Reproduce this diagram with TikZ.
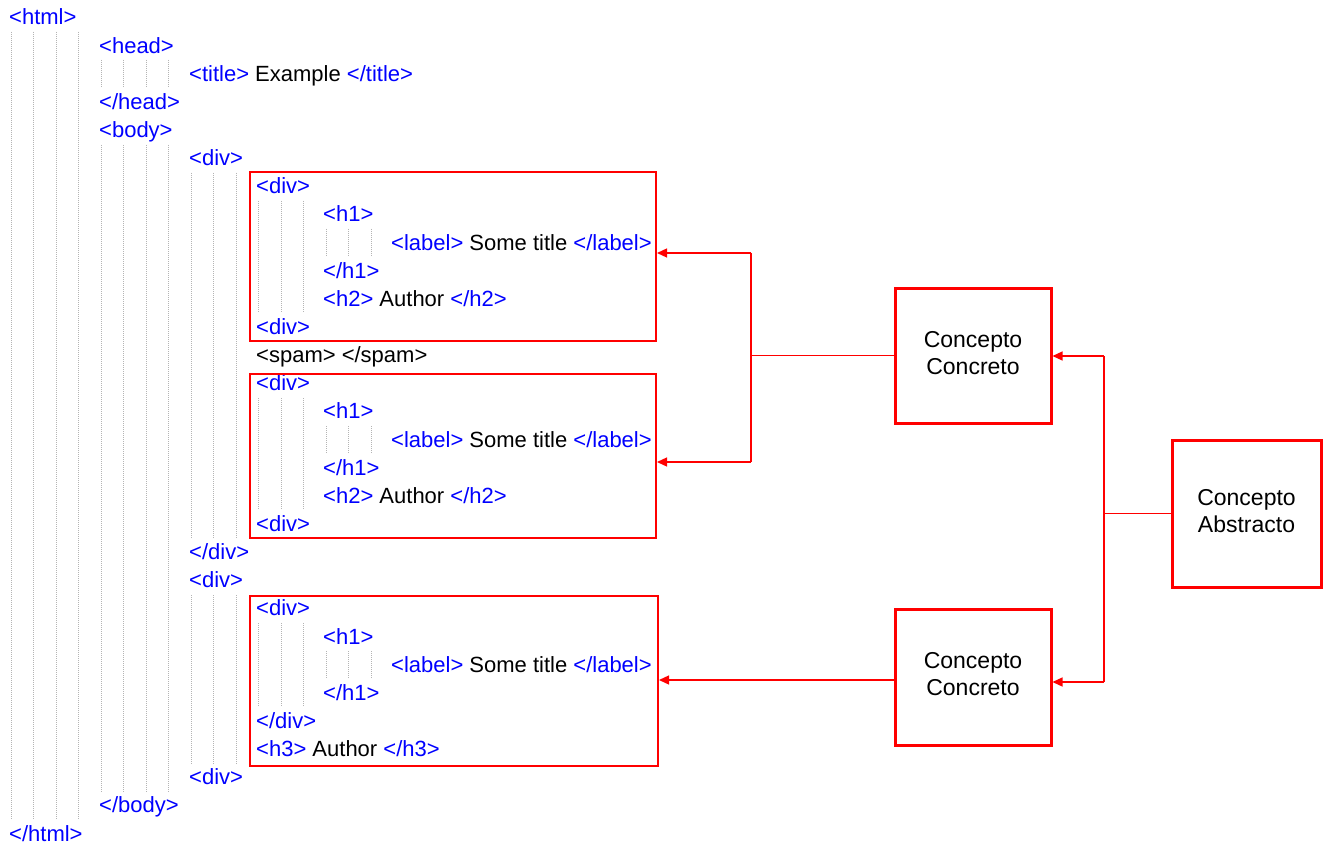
\documentclass[tikz,border=0pt]{standalone}
\usepackage{fontspec}
\setmainfont{Liberation Sans}
\usetikzlibrary{arrows.meta}
\definecolor{tagblue}{RGB}{0,0,255}
\definecolor{boxred}{RGB}{255,0,0}
\definecolor{guidegray}{RGB}{180,180,180}
% tag text in blue
\newcommand{\tg}[1]{\textcolor{tagblue}{#1}}
% one source line: name, x of its indent level, line number, text
\newcommand{\codeline}[4]{\node[code] (#1) at (#2,{25+28.14*#3}) {#4};}
\begin{document}
\begin{tikzpicture}[x=1pt,y=-1pt,
  code/.style={anchor=base west, inner sep=0pt, font=\fontsize{22}{26}\selectfont},
  guide/.style={draw=guidegray, line width=0.8pt, dash pattern=on 1pt off 1pt},
  codebox/.style={draw=boxred, line width=2pt, inner sep=0pt},
  concept/.style={draw=boxred, line width=3pt, align=center, text depth=6pt,
    font=\fontsize{23}{27}\selectfont},
  conn/.style={draw=boxred, line width=1.3pt},
  tip/.style={-{Triangle[length=10pt,width=9pt]}}]
\useasboundingbox[fill=white] (0,0) rectangle (1331,845);

% indentation guides
\foreach \x in {11,33.5,56,78.5} \draw[guide] (\x,32) -- (\x,820);
\foreach \x in {101,123.5,146,168.5} {
  \draw[guide] (\x,60) -- (\x,88);
  \draw[guide] (\x,145) -- (\x,792);
}
\foreach \x in {191,213.5,236} {
  \draw[guide] (\x,173) -- (\x,538);
  \draw[guide] (\x,595) -- (\x,764);
}
\foreach \x in {258,281,303} {
  \draw[guide] (\x,201) -- (\x,313);
  \draw[guide] (\x,398) -- (\x,510);
  \draw[guide] (\x,623) -- (\x,707);
}
\foreach \x in {326,348.5,371} {
  \draw[guide] (\x,229) -- (\x,257);
  \draw[guide] (\x,426) -- (\x,454);
  \draw[guide] (\x,651) -- (\x,679);
}

% source lines
\codeline{l0}{9}{0}{\tg{<html>}}
\codeline{l1}{99}{1}{\tg{<head>}}
\codeline{l2}{189}{2}{\tg{<title>} Example \tg{</title>}}
\codeline{l3}{99}{3}{\tg{</head>}}
\codeline{l4}{99}{4}{\tg{<body>}}
\codeline{l5}{189}{5}{\tg{<div>}}
\codeline{l6}{256}{6}{\tg{<div>}}
\codeline{l7}{323}{7}{\tg{<h1>}}
\codeline{l8}{391}{8}{\tg{<label>} Some title \tg{</label>}}
\codeline{l9}{323}{9}{\tg{</h1>}}
\codeline{l10}{323}{10}{\tg{<h2>} Author \tg{</h2>}}
\codeline{l11}{256}{11}{\tg{<div>}}
\codeline{l12}{256}{12}{<spam> </spam>}
\codeline{l13}{256}{13}{\tg{<div>}}
\codeline{l14}{323}{14}{\tg{<h1>}}
\codeline{l15}{391}{15}{\tg{<label>} Some title \tg{</label>}}
\codeline{l16}{323}{16}{\tg{</h1>}}
\codeline{l17}{323}{17}{\tg{<h2>} Author \tg{</h2>}}
\codeline{l18}{256}{18}{\tg{<div>}}
\codeline{l19}{189}{19}{\tg{</div>}}
\codeline{l20}{189}{20}{\tg{<div>}}
\codeline{l21}{256}{21}{\tg{<div>}}
\codeline{l22}{323}{22}{\tg{<h1>}}
\codeline{l23}{391}{23}{\tg{<label>} Some title \tg{</label>}}
\codeline{l24}{323}{24}{\tg{</h1>}}
\codeline{l25}{256}{25}{\tg{</div>}}
\codeline{l26}{256}{26}{\tg{<h3>} Author \tg{</h3>}}
\codeline{l27}{189}{27}{\tg{<div>}}
\codeline{l28}{99}{28}{\tg{</body>}}
\codeline{l29}{9}{29}{\tg{</html>}}

% highlighted blocks
\node[codebox, minimum width=406, minimum height=169] (b1) at (453,256.5) {};
\node[codebox, minimum width=406, minimum height=164] (b2) at (453,456) {};
\node[codebox, minimum width=408, minimum height=170] (b3) at (454,681) {};

% concept boxes
\node[concept, minimum width=156, minimum height=135] (cc1) at (973,355.5) {Concepto\\Concreto};
\node[concept, minimum width=156, minimum height=136] (cc2) at (973,677) {Concepto\\Concreto};
\node[concept, minimum width=149, minimum height=147] (ca) at (1246.5,513.5) {Concepto\\Abstracto};

% first concrete concept to the two upper blocks
\coordinate (j1a) at (751,253);
\coordinate (j1b) at (751,462);
\draw[conn] (cc1.west) -- (cc1.west -| j1a);
\draw[conn] (j1a) -- (j1b);
\draw[conn, tip] (j1a) -- (j1a -| b1.east);
\draw[conn, tip] (j1b) -- (j1b -| b2.east);

% second concrete concept to the lower block
\coordinate (j3) at (895,680);
\draw[conn, tip] (j3) -- (j3 -| b3.east);

% abstract concept to both concrete concepts
\coordinate (j2a) at (1104,356);
\coordinate (j2b) at (1104,682);
\draw[conn] (ca.west) -- (ca.west -| j2a);
\draw[conn] (j2a) -- (j2b);
\draw[conn, tip] (j2a) -- (j2a -| cc1.east);
\draw[conn, tip] (j2b) -- (j2b -| cc2.east);
\end{tikzpicture}
\end{document}
